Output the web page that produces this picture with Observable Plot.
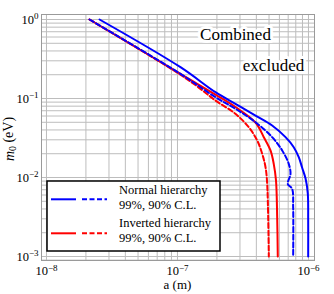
<!DOCTYPE html>
<html><head><meta charset="utf-8">
<script src="https://cdn.jsdelivr.net/npm/d3@7"></script>
<script src="https://cdn.jsdelivr.net/npm/@observablehq/plot@0.6"></script>
<style>
body{margin:0;background:#fff;}
#wrap{position:relative;width:334px;height:294px;font-family:"Liberation Serif","DejaVu Serif",serif;}
#legend{position:absolute;left:46px;top:180px;}
#legend text{font-family:"Liberation Serif","DejaVu Serif",serif;}
</style></head><body><div id="wrap"></div>
<script>
// Normal hierarchy, 99% C.L. (blue solid)
const normal99A = [2.54e-8, 1.054e-7, 1.95e-7, 2.77e-7, 3.94e-7, 5.28e-7, 6.68e-7, 7.72e-7, 8.43e-7, 8.95e-7, 9.5e-7, 9.88e-7, 9.95e-7, 9.95e-7];
const normal99M = [1, 0.249, 0.1202, 0.0857, 0.0609, 0.0455, 0.0324, 0.0242, 0.0181, 0.0133, 0.0097, 0.0063, 0.0029, 0.001];
// Normal hierarchy, 90% C.L. (blue dashed)
const normal90A = [2.13e-8, 1.054e-7, 1.95e-7, 2.77e-7, 3.94e-7, 5.28e-7, 6.30e-7, 7.07e-7, 7.29e-7, 6.95e-7, 7.5e-7, 7.64e-7, 7.64e-7];
const normal90M = [1, 0.205, 0.104, 0.0741, 0.0501, 0.0324, 0.022, 0.0149, 0.0111, 0.0083, 0.0072, 0.0042, 0.001];
// Inverted hierarchy, 99% C.L. (red solid)
const inverted99A = [2.13e-8, 1.054e-7, 1.95e-7, 2.77e-7, 3.94e-7, 4.56e-7, 5.13e-7, 5.43e-7, 5.65e-7, 5.77e-7, 5.83e-7];
const inverted99M = [1, 0.205, 0.112, 0.078, 0.0497, 0.0324, 0.022, 0.0149, 0.0092, 0.0031, 0.001];
// Inverted hierarchy, 90% C.L. (red dashed)
const inverted90A = [2.13e-8, 8.84e-8, 1.37e-7, 1.95e-7, 2.77e-7, 3.50e-7, 4.06e-7, 4.43e-7, 4.70e-7, 4.84e-7, 4.98e-7];
const inverted90M = [1, 0.241, 0.148, 0.0943, 0.064, 0.0433, 0.0294, 0.02, 0.0135, 0.0083, 0.001];

const xTicks = [1e-8, 1e-7, 1e-6];
const yTicks = [1e-3, 1e-2, 1e-1, 1];
const legendLabels = ["Normal hierarchy", "99%, 90% C.L.", "Inverted hierarchy", "99%, 90% C.L."];
const annotations = ["Combined", "excluded"];

const toRows = (A, M) => A.map((a, i) => ({a, m: M[i]}));

const xDomain = [10 ** -8.038, 10 ** -5.954];
const yDomain = [10 ** -3.0506, 10 ** 0.0633];
function logGrid(lo, hi, dom) {
  const out = [];
  for (let e = lo; e <= hi; e++) for (let k = 1; k <= 9; k++) {
    const v = k * 10 ** e;
    if (v >= dom[0] && v <= dom[1]) out.push(v);
  }
  return out;
}
const xGrid = logGrid(-9, -6, xDomain);
const yGrid = logGrid(-4, 0, yDomain);

const sup = d => "10^" + Math.round(Math.log10(d));
const blue = "#0000ff", red = "#ff0000";
const dash = "5,2.5";
const serif = "Liberation Serif";

const svg = Plot.plot({
  width: 334, height: 294,
  marginLeft: 41, marginRight: 20, marginTop: 14, marginBottom: 34,
  style: {fontFamily: serif, fontSize: "12px", background: "white", overflow: "visible", color: "#000"},
  x: {type: "log", domain: xDomain},
  y: {type: "log", domain: yDomain},
  marks: [
    Plot.gridX(xGrid, {stroke: "#bdbdbd", strokeOpacity: 1}),
    Plot.gridY(yGrid, {stroke: "#bdbdbd", strokeOpacity: 1}),
    Plot.frame({stroke: "#9a9a9a"}),
    Plot.axisX(xTicks, {tickSize: 0, tickPadding: 6, tickFormat: sup, label: null, fontSize: 12.5}),
    Plot.axisY(yTicks, {tickSize: 0, tickPadding: 3, tickFormat: sup, label: null, fontSize: 12.5}),
    Plot.line(toRows(inverted99A, inverted99M), {x: "a", y: "m", stroke: red, strokeWidth: 2, curve: "catmull-rom"}),
    Plot.line(toRows(inverted90A, inverted90M), {x: "a", y: "m", stroke: red, strokeWidth: 2, strokeDasharray: dash, curve: "catmull-rom"}),
    Plot.line(toRows(normal99A, normal99M), {x: "a", y: "m", stroke: blue, strokeWidth: 2, curve: "catmull-rom"}),
    Plot.line(toRows(normal90A, normal90M), {x: "a", y: "m", stroke: blue, strokeWidth: 2, strokeDasharray: dash, curve: "catmull-rom"}),
    Plot.text([annotations[0]], {frameAnchor: "top-left", dx: 194, dy: 19.6, text: d => d, textAnchor: "middle", lineAnchor: "middle", fontSize: 17, fontFamily: serif, fill: "black", stroke: "white", strokeWidth: 6}),
    Plot.text([annotations[1]], {frameAnchor: "top-left", dx: 232, dy: 50.6, text: d => d, textAnchor: "middle", lineAnchor: "middle", fontSize: 17, fontFamily: serif, fill: "black", stroke: "white", strokeWidth: 6})
  ]
});

// superscript tick labels
d3.select(svg).selectAll("text").each(function () {
  const mm = /^10\^(-?\d+)$/.exec(this.textContent);
  if (mm) {
    const el = d3.select(this);
    el.text("");
    el.append("tspan").text("10");
    el.append("tspan").attr("dy", "-0.45em").attr("font-size", "0.72em").text(mm[1].replace("-", "\u2212"));
  }
});

// axis labels
const s = d3.select(svg);
s.append("text").attr("x", 177.5).attr("y", 289).attr("text-anchor", "middle")
  .attr("font-family", serif).attr("font-size", 13).attr("fill", "black").text("a (m)");
const yl = s.append("text").attr("transform", "translate(13.5,139) rotate(-90)")
  .attr("text-anchor", "middle").attr("font-family", serif).attr("font-size", 14).attr("fill", "black");
yl.append("tspan").attr("font-style", "italic").text("m");
yl.append("tspan").attr("font-size", "0.7em").attr("dy", "0.25em").text("0");
yl.append("tspan").attr("dy", "-0.18em").text(" (eV)");

document.getElementById("wrap").appendChild(svg);

// legend
const lg = d3.select("#wrap").append("svg").attr("id", "legend").attr("width", 176).attr("height", 73);
lg.append("rect").attr("x", 1).attr("y", 1).attr("width", 173).attr("height", 70)
  .attr("fill", "white").attr("stroke", "black").attr("stroke-width", 1.5);
const rowsL = [{c: blue, y: 19.3}, {c: red, y: 53.3}];
rowsL.forEach(r => {
  lg.append("line").attr("x1", 5).attr("x2", 30).attr("y1", r.y).attr("y2", r.y).attr("stroke", r.c).attr("stroke-width", 2);
  lg.append("line").attr("x1", 36).attr("x2", 61).attr("y1", r.y).attr("y2", r.y).attr("stroke", r.c).attr("stroke-width", 2).attr("stroke-dasharray", dash);
});
const baselines = [14.3, 28.8, 47.4, 61.9];
legendLabels.forEach((t, i) => {
  lg.append("text").attr("x", 73).attr("y", baselines[i]).attr("font-family", serif)
    .attr("font-size", 12.5).attr("fill", "black").text(t);
});
</script>
</body></html>
